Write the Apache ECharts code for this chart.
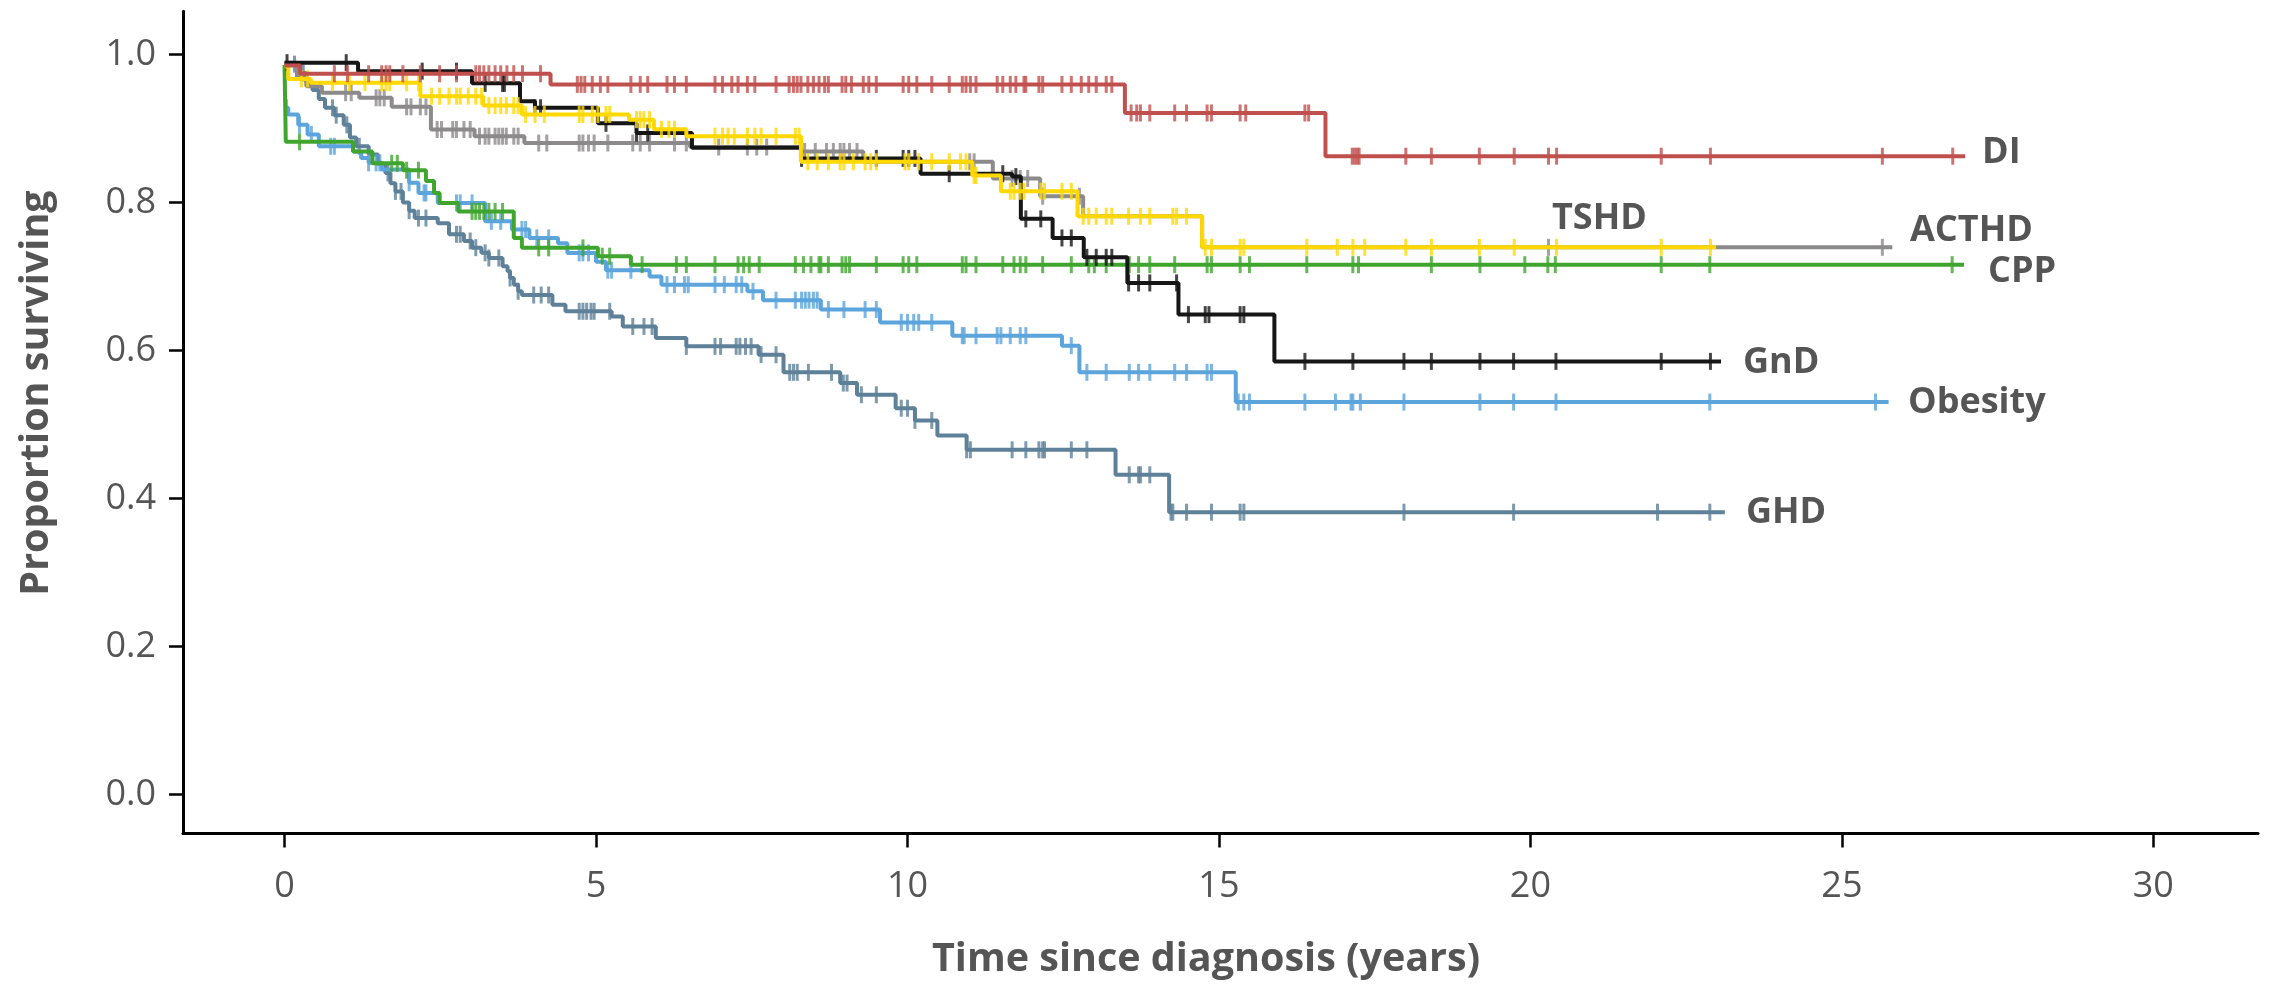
<!DOCTYPE html>
<html><head><meta charset="utf-8">
<script src="https://cdn.jsdelivr.net/npm/echarts@6/dist/echarts.min.js"></script>
<style>html,body{margin:0;padding:0;background:#fff}#c{width:2277px;height:984px}</style>
</head><body><div id="c"></div><script>
// ---- data (time in years, proportion surviving) ----
const xTicks=[0,5,10,15,20,25,30];
const yTicks=[0,0.2,0.4,0.6,0.8,1.0];
const groupNames=['GHD','Obesity','CPP','ACTHD','GnD','TSHD','DI'];

const diTime=[0,0.25,4.27,13.49,16.71];
const diSurv=[0.985,0.974,0.9596,0.921,0.8626];
const diEnd=26.98;
const diCensor=[0.80,1.01,1.35,1.56,1.63,1.69,1.90,2.18,2.49,2.76,3.07,3.13,3.20,3.28,3.38,3.47,3.57,3.68,3.82,4.11,
4.70,4.76,4.82,4.94,5.07,5.19,5.56,5.71,5.83,6.14,6.26,6.45,6.91,7.03,7.18,7.28,7.43,7.55,7.89,8.10,8.17,8.23,8.29,8.40,8.49,8.58,8.67,8.73,8.95,9.01,9.10,9.29,9.38,9.50,9.93,10.02,10.15,10.39,10.67,10.88,10.94,11.01,11.10,11.44,11.53,11.65,11.74,11.87,11.90,12.11,12.17,12.48,12.63,12.79,12.91,13.03,13.19,13.28,
13.59,13.68,13.74,13.89,14.29,14.48,14.81,14.88,15.34,15.43,16.38,16.44,
17.14,17.18,17.22,17.25,18.00,18.41,19.18,19.74,20.29,20.42,22.10,22.89,25.65,26.78];

const tshdTime=[0,0.06,0.42,2.18,3.19,3.81,5.53,5.93,6.45,8.29,11.04,11.5,12.73,14.73];
const tshdSurv=[0.984,0.967,0.962,0.9437,0.931,0.919,0.912,0.899,0.8896,0.855,0.8365,0.8152,0.7814,0.7395];
const tshdEnd=22.98;
const tshdCensor=[0.27,0.37,0.77,1.04,1.29,1.56,1.63,1.69,1.96,2.15,2.36,2.49,2.64,2.76,2.82,2.95,3.07,3.16,3.28,3.38,3.47,3.56,3.68,3.75,
3.87,4.02,4.17,4.73,4.79,4.94,5.03,5.16,5.22,5.65,5.71,5.77,5.86,6.05,6.17,6.26,6.91,7.03,7.12,7.22,7.43,7.55,7.65,7.89,8.20,8.26,
8.40,8.55,8.73,8.92,8.98,9.13,9.32,9.41,9.50,9.96,10.02,10.18,10.39,10.67,10.85,10.94,11.07,11.10,11.65,11.71,11.81,11.87,12.14,12.20,12.48,12.63,
12.82,12.91,13.03,13.19,13.28,13.55,13.74,13.89,14.26,14.32,14.48,14.78,14.88,15.34,15.40,16.41,16.90,17.15,17.34,18.00,18.41,19.18,19.74,20.42,22.10,22.89];

const acthdTime=[0,0.2,0.35,0.6,1.20,1.72,2.35,3.05,3.85,6.51,8.29,9.29,11.37,12.13,12.82,14.73];
const acthdSurv=[0.989,0.97,0.957,0.9484,0.9415,0.9293,0.8987,0.8896,0.8804,0.875,0.869,0.855,0.8325,0.8085,0.7814,0.7395];
const acthdEnd=25.81;
const acthdCensor=[0.98,1.07,1.47,1.53,1.60,1.96,2.03,2.18,2.27,2.45,2.52,2.70,2.76,2.88,2.98,3.13,3.22,3.28,3.38,3.44,3.50,3.56,3.68,3.75,
4.08,4.21,4.73,4.79,4.88,4.97,5.19,5.59,5.71,5.86,6.26,6.45,6.97,7.43,7.58,7.74,8.35,8.52,8.70,8.81,8.92,8.98,9.07,9.19,11.0,11.07,11.68,11.81,11.93,12.17,12.76,20.29,25.65];

const gndTime=[0,1.18,3.01,3.78,4.02,5.03,5.65,6.54,8.29,10.21,11.68,11.82,12.33,12.83,13.53,14.35,15.89];
const gndSurv=[0.989,0.9775,0.961,0.937,0.928,0.907,0.894,0.874,0.8596,0.8389,0.835,0.7779,0.7521,0.7259,0.6913,0.6485,0.5853];
const gndEnd=23.06;
const gndCensor=[0.04,0.99,2.21,2.76,3.22,3.50,3.53,4.02,4.11,5.16,5.65,5.83,8.30,9.50,9.93,10.02,10.12,10.67,11.53,11.74,11.90,12.14,12.48,12.63,12.88,13.03,13.19,13.28,
13.55,13.71,13.89,14.32,14.51,14.78,14.84,15.34,15.40,16.38,17.15,17.97,18.41,19.19,19.73,20.41,22.10,22.89];

const cppTime=[0,0.02,1.10,1.41,1.90,2.27,2.40,2.49,2.79,3.68,3.81,5.03,5.56];
const cppSurv=[0.986,0.882,0.869,0.853,0.8437,0.829,0.813,0.7995,0.788,0.752,0.7387,0.7274,0.716];
const cppEnd=26.96;
const cppCensor=[0.24,1.72,1.81,1.96,2.15,3.01,3.07,3.13,3.20,3.28,3.38,3.50,4.08,4.24,4.79,5.10,5.22,5.74,6.29,6.45,6.91,7.28,7.37,7.46,7.62,8.20,8.33,8.45,8.58,8.61,8.73,8.95,9.01,9.07,9.50,9.93,10.02,10.15,
10.88,10.94,11.10,11.53,11.71,11.81,11.90,12.17,12.63,12.91,13.00,13.19,13.53,13.56,13.71,13.89,14.29,14.81,14.88,15.34,15.49,16.41,17.15,17.24,18.41,19.19,19.91,20.28,20.40,22.10,22.88,26.77];

const obTime=[0,0.06,0.22,0.37,0.55,1.10,1.23,1.35,1.56,2.0,2.15,2.46,3.22,3.65,3.93,4.39,4.54,5.0,5.16,5.86,6.05,7.43,7.68,8.61,9.56,10.72,12.48,12.76,15.27];
const obSurv=[0.928,0.919,0.905,0.892,0.876,0.869,0.86,0.8536,0.8446,0.8266,0.813,0.7995,0.7746,0.7635,0.7522,0.745,0.7319,0.72,0.7085,0.70,0.689,0.68,0.668,0.6553,0.638,0.6201,0.6066,0.5705,0.5303];
const obEnd=25.75;
const obCensor=[0.03,0.24,0.43,0.74,0.80,1.35,1.47,1.53,2.0,2.24,2.27,2.76,2.82,3.01,3.32,3.47,3.81,3.87,4.05,4.24,4.73,4.79,4.88,5.19,5.25,5.56,6.14,6.26,6.42,6.48,6.91,7.06,7.25,7.34,7.52,7.89,
8.20,8.30,8.36,8.42,8.49,8.55,8.73,8.98,9.32,9.50,9.90,10.0,10.1,10.18,10.39,10.88,10.91,11.10,11.44,11.50,11.65,11.81,11.90,12.63,12.88,13.19,13.56,13.71,13.89,14.29,14.48,14.81,14.88,
15.31,15.40,15.49,16.38,16.87,17.12,17.15,17.27,17.97,19.19,19.73,20.41,22.88,25.54];

const ghdTime=[0,0.25,0.35,0.45,0.55,0.65,0.8,0.95,1.05,1.15,1.35,1.50,1.62,1.70,1.78,1.90,2.00,2.09,2.46,2.64,2.88,3.01,3.16,3.28,3.50,3.58,3.62,3.68,3.75,3.81,4.30,4.51,5.25,5.43,5.96,6.45,7.61,8.01,8.92,9.19,9.81,10.12,10.48,10.95,13.34,14.20];
const ghdSurv=[0.987,0.975,0.962,0.952,0.94,0.928,0.918,0.905,0.888,0.876,0.865,0.852,0.840,0.826,0.815,0.800,0.789,0.779,0.772,0.757,0.748,0.739,0.732,0.725,0.714,0.707,0.698,0.689,0.680,0.675,0.662,0.653,0.646,0.6325,0.617,0.6056,0.5944,0.5705,0.556,0.5402,0.522,0.5055,0.4852,0.4658,0.432,0.3815];
const ghdEnd=23.12;
const ghdCensor=[0.16,0.30,0.77,0.83,1.0,1.2,1.66,1.78,1.87,2.0,2.15,2.27,2.76,2.82,2.98,3.07,3.22,3.28,3.44,3.62,3.75,4.0,4.12,4.24,4.73,4.79,4.85,4.92,4.97,5.22,5.59,5.77,5.90,6.45,6.91,7.0,7.25,7.31,7.40,7.49,7.65,7.89,
8.11,8.17,8.23,8.41,8.78,8.97,9.03,9.26,9.50,9.90,10.0,10.12,10.39,10.95,11.01,11.68,11.90,12.11,12.17,12.20,12.63,12.88,13.56,13.71,13.74,13.89,14.23,14.26,14.48,14.88,15.34,15.40,17.97,19.73,22.04,22.88];

// ---- chart ----
const groups=[
 {name:'GHD',t:ghdTime,s:ghdSurv,e:ghdEnd,c:ghdCensor,color:'#5E8199'},
 {name:'Obesity',t:obTime,s:obSurv,e:obEnd,c:obCensor,color:'#5BA4DC'},
 {name:'CPP',t:cppTime,s:cppSurv,e:cppEnd,c:cppCensor,color:'#40A52E'},
 {name:'ACTHD',t:acthdTime,s:acthdSurv,e:acthdEnd,c:acthdCensor,color:'#8C8A8B'},
 {name:'GnD',t:gndTime,s:gndSurv,e:gndEnd,c:gndCensor,color:'#161616'},
 {name:'TSHD',t:tshdTime,s:tshdSurv,e:tshdEnd,c:tshdCensor,color:'#FFD800'},
 {name:'DI',t:diTime,s:diSurv,e:diEnd,c:diCensor,color:'#C0504D'}
];
function survAt(g,x){let v=g.s[0];for(let i=0;i<g.t.length;i++){if(g.t[i]<=x+1e-9)v=g.s[i];}return v;}
const series=[];
groups.forEach((g,i)=>{
  const d=g.t.map((t,k)=>[t,g.s[k]]);d.push([g.e,g.s[g.s.length-1]]);
  series.push({name:g.name,type:'line',step:'end',data:d,showSymbol:false,symbol:'none',silent:true,
    lineStyle:{color:g.color,width:4},z:2+i*2});
  series.push({name:g.name+' censored',type:'scatter',data:g.c.map(x=>[x,survAt(g,x)]),symbol:'rect',symbolSize:[3,17],
    itemStyle:{color:g.color},silent:true,z:3+i*2});
});
const labelFont={fontFamily:'Open Sans',fontWeight:'bold',fontSize:36,fill:'#555555'};
const seriesLabels=[
 {text:'DI',x:1982,y:153},{text:'TSHD',x:1552,y:219},{text:'ACTHD',x:1910,y:231},{text:'CPP',x:1988,y:272},
 {text:'GnD',x:1743,y:363},{text:'Obesity',x:1908,y:403},{text:'GHD',x:1746,y:513}
];
const chart=echarts.init(document.getElementById('c'),null,{renderer:'canvas'});
chart.setOption({
  animation:false,backgroundColor:'#fff',
  grid:{left:183,right:19,top:11.3,bottom:150.5},
  xAxis:{type:'value',min:-1.63,max:31.68,
    axisLine:{show:true,onZero:false,lineStyle:{color:'#000',width:3}},
    axisTick:{show:true,customValues:xTicks,length:14,lineStyle:{color:'#000',width:2.5}},
    axisLabel:{customValues:xTicks,fontFamily:'Open Sans',fontSize:36,color:'#555555',margin:35},
    splitLine:{show:false}},
  yAxis:{type:'value',min:-0.0527,max:1.0584,
    axisLine:{show:true,onZero:false,lineStyle:{color:'#000',width:3}},
    axisTick:{show:true,customValues:yTicks,length:14,lineStyle:{color:'#000',width:2.5}},
    axisLabel:{customValues:yTicks,fontFamily:'Open Sans',fontSize:36,color:'#555555',margin:27,formatter:v=>v.toFixed(1)},
    splitLine:{show:false}},
  graphic:[
    {type:'text',x:1206,y:960,style:Object.assign({text:'Time since diagnosis (years)',align:'center',verticalAlign:'middle'},labelFont,{fontSize:39.5})},
    {type:'text',x:37,y:393,rotation:Math.PI/2,style:Object.assign({text:'Proportion surviving',align:'center',verticalAlign:'middle'},labelFont,{fontSize:39.5})}
  ].concat(seriesLabels.map(l=>({type:'text',x:l.x,y:l.y,style:Object.assign({text:l.text,align:'left',verticalAlign:'middle'},labelFont)}))),
  series:series
});
</script></body></html>
